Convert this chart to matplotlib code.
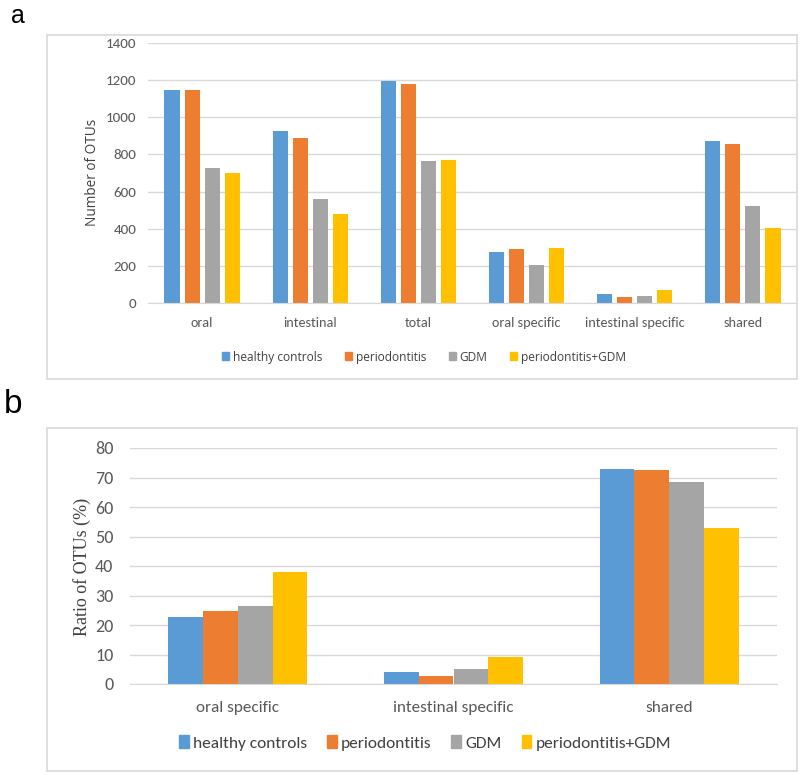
import matplotlib
matplotlib.use("Agg")
import matplotlib.pyplot as plt
from matplotlib.patches import Rectangle, Patch
import numpy as np

# Data
groups = ["healthy controls", "periodontitis", "GDM", "periodontitis+GDM"]
colors = ["#5B9BD5", "#ED7D31", "#A5A5A5", "#FFC000"]

cats_a = ["oral", "intestinal", "total", "oral specific", "intestinal specific", "shared"]
healthy_a = [1148, 926, 1198, 272, 50, 873]
perio_a = [1148, 890, 1181, 293, 33, 855]
gdm_a = [726, 562, 763, 202, 38, 521]
perio_gdm_a = [702, 480, 772, 294, 72, 406]

cats_b = ["oral specific", "intestinal specific", "shared"]
healthy_b = [22.7, 4.2, 73.0]
perio_b = [24.7, 2.8, 72.4]
gdm_b = [26.3, 5.0, 68.6]
perio_gdm_b = [38.0, 9.3, 52.8]

calib = ["Carlito", "DejaVu Sans"]
W, H = 800, 775
fig = plt.figure(figsize=(W / 100, H / 100), dpi=100)


def px_axes(x0, y0, x1, y1):
    # pixel box (top-left origin) -> figure axes
    return fig.add_axes([x0 / W, 1 - y1 / H, (x1 - x0) / W, (y1 - y0) / H])


def frame(x0, y0, x1, y1):
    fig.patches.append(Rectangle((x0 / W, 1 - y1 / H), (x1 - x0) / W, (y1 - y0) / H,
                                 transform=fig.transFigure, fill=False,
                                 edgecolor="#d9d9d9", lw=1.2))


def style(ax, ymax, step, yfs, xfs):
    ax.set_ylim(0, ymax)
    ax.set_yticks(np.arange(0, ymax + 1, step))
    ax.yaxis.grid(True, color="#d9d9d9", lw=1)
    ax.set_axisbelow(True)
    for s in ["top", "right", "left"]:
        ax.spines[s].set_visible(False)
    ax.spines["bottom"].set_color("#d9d9d9")
    ax.tick_params(length=0, colors="#595959")
    ax.tick_params(axis="y", labelsize=yfs)
    ax.tick_params(axis="x", labelsize=xfs)
    for lab in ax.get_yticklabels() + ax.get_xticklabels():
        lab.set_fontfamily(calib)


handles = [Patch(color=c) for c in colors]

# panel a
frame(47, 35, 797, 379)
ax1 = px_axes(148, 43, 797, 303)
series_a = [healthy_a, perio_a, gdm_a, perio_gdm_a]
x = np.arange(len(cats_a))
for i, vals in enumerate(series_a):
    ax1.bar(x + (i - 1.5) * 0.185, vals, width=0.14, color=colors[i])
ax1.set_xlim(-0.5, len(cats_a) - 0.5)
ax1.set_xticks(x)
ax1.set_xticklabels(cats_a)
style(ax1, 1400, 200, 10.8, 10.2)
ax1.tick_params(axis="y", pad=8.5)
ax1.tick_params(axis="x", pad=10)
fig.text(93 / W, 1 - 172 / H, "Number of OTUs", rotation=90, ha="center", va="center",
         fontsize=9.8, color="#404040", family="Open Sans")
fig.text(11 / W, 1 - 23 / H, "a", fontsize=18, va="baseline", ha="left", family="Liberation Sans")
leg = fig.legend(handles, groups, loc="center", bbox_to_anchor=(424 / W, 1 - 357 / H), ncol=4,
                 frameon=False, handlelength=0.6, handleheight=0.6, handletextpad=0.3,
                 columnspacing=1.9, prop={"family": "Open Sans", "size": 8.6})
for t in leg.get_texts():
    t.set_color("#404040")

# panel b
frame(47, 428, 797, 771)
ax2 = px_axes(130, 448, 777, 684)
series_b = [healthy_b, perio_b, gdm_b, perio_gdm_b]
xb = np.arange(len(cats_b))
for i, vals in enumerate(series_b):
    ax2.bar(xb + (i - 1.5) * 0.161, vals, width=0.161, color=colors[i])
ax2.set_xlim(-0.5, len(cats_b) - 0.5)
ax2.set_xticks(xb)
ax2.set_xticklabels(cats_b)
style(ax2, 80, 10, 13, 12.3)
ax2.tick_params(axis="y", pad=12)
ax2.tick_params(axis="x", pad=12)
fig.text(82 / W, 1 - 567 / H, "Ratio of OTUs (%)", rotation=90, ha="center", va="center",
         fontsize=13, color="#404040", family="Liberation Serif")
fig.text(4 / W, 1 - 413 / H, "b", fontsize=24, va="baseline", ha="left", family="Liberation Sans")
leg2 = fig.legend(handles, groups, loc="center", bbox_to_anchor=(425 / W, 1 - 743 / H), ncol=4,
                  frameon=False, handlelength=0.55, handleheight=0.8, handletextpad=0.25,
                  columnspacing=1.15, prop={"family": calib, "size": 12.5})
for t in leg2.get_texts():
    t.set_color("#404040")

fig.savefig("out.png", dpi=100)
